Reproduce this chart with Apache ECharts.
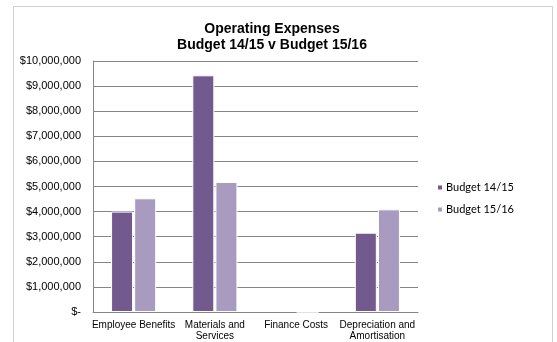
<!DOCTYPE html>
<html><head><meta charset="utf-8">
<script src="https://cdn.jsdelivr.net/npm/echarts@6/dist/echarts.min.js"></script>
<style>html,body{margin:0;padding:0;background:#fff}#c{width:557px;height:342px}</style>
</head><body><div id="c"></div>
<script>
const categories = ['Employee Benefits', 'Materials and\nServices', 'Finance Costs', 'Depreciation and\nAmortisation'];
const budget1415 = [4000000, 9430000, 40000, 3160000];
const budget1516 = [4530000, 5180000, 0, 4090000];
const seriesNames = ['Budget 14/15', 'Budget 15/16'];
const yTicks = [0, 10000000, 1000000];

function fmt(v) {
  if (v === 0) return '$-';
  return '$' + v.toLocaleString('en-US');
}

const chart = echarts.init(document.getElementById('c'));
chart.setOption({
  animation: false,
  graphic: [{
    type: 'rect', shape: { x: 13.5, y: 6.5, width: 539, height: 350 },
    style: { fill: 'none', stroke: '#d0d0d0', lineWidth: 1 }, silent: true
  }],
  title: {
    text: 'Operating Expenses\nBudget 14/15 v Budget 15/16',
    left: 267, top: 16, textAlign: 'center',
    textStyle: { fontFamily: 'Liberation Sans, Arial', fontSize: 14, fontWeight: 'bold', color: '#000', lineHeight: 16 }
  },
  legend: {
    orient: 'vertical', left: 431, top: 177, itemWidth: 6, itemHeight: 6, itemGap: 11,
    icon: 'rect',
    textStyle: { fontFamily: 'Lato, Liberation Sans', fontSize: 11, color: '#000', padding: [0, 0, 0, -2] },
    data: seriesNames
  },
  grid: { left: 93, right: 139, top: 61, bottom: 30, containLabel: false },
  xAxis: {
    type: 'category', data: categories,
    axisLine: { lineStyle: { color: '#868686' } },
    axisTick: { show: false },
    axisLabel: { fontFamily: 'Liberation Sans, Arial', fontSize: 10, color: '#000', interval: 0, lineHeight: 11, margin: 8 }
  },
  yAxis: {
    type: 'value', min: yTicks[0], max: yTicks[1], interval: yTicks[2],
    axisLine: { show: true, lineStyle: { color: '#868686' } },
    axisTick: { show: false },
    splitLine: { lineStyle: { color: '#868686' } },
    axisLabel: { fontFamily: 'Liberation Sans, Arial', fontSize: 11, color: '#000', margin: 12, formatter: fmt }
  },
  series: [
    { name: seriesNames[0], type: 'bar', data: budget1415, barWidth: 22, barGap: '5%',
      itemStyle: { color: '#72598e', borderColor: '#ffffff', borderWidth: 1 } },
    { name: seriesNames[1], type: 'bar', data: budget1516, barWidth: 22,
      itemStyle: { color: '#a99bc0', borderColor: '#ffffff', borderWidth: 1 } }
  ]
});
</script></body></html>
